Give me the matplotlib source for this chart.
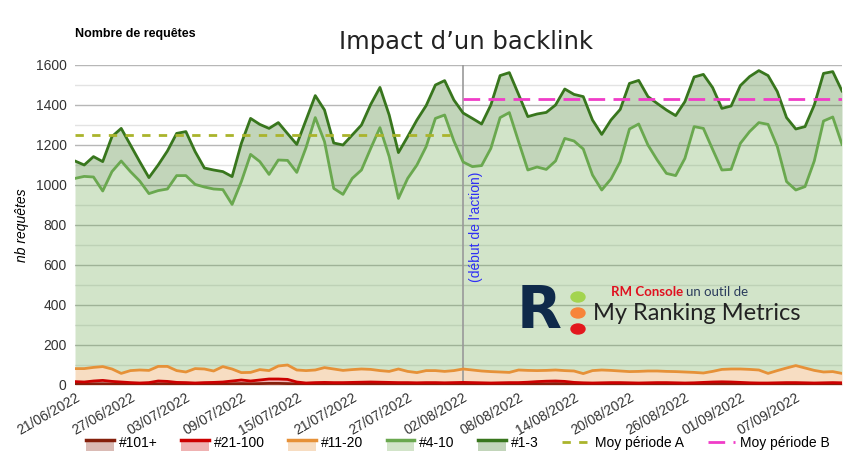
import numpy as np
import pandas as pd
import matplotlib
matplotlib.use("Agg")
import matplotlib.pyplot as plt
from matplotlib.lines import Line2D
from matplotlib.patches import Rectangle, Ellipse
from matplotlib.legend_handler import HandlerBase

plt.rcParams["font.family"] = ["Liberation Sans", "DejaVu Sans"]

# daily dates 21/06/2022 -> 12/09/2022
dates = pd.date_range("2022-06-21", "2022-09-12", freq="D")

# levels of each stacked series, as read on the chart
top_1_3 = [1120, 1100, 1142, 1117, 1242, 1283, 1200, 1117, 1037, 1100,
           1170, 1258, 1267, 1167, 1085, 1075, 1067, 1042, 1208, 1333,
           1303, 1283, 1312, 1257, 1203, 1325, 1447, 1375, 1210, 1200,
           1250, 1300, 1403, 1488, 1350, 1162, 1242, 1325, 1397, 1500,
           1522, 1425, 1360, 1333, 1305, 1400, 1547, 1562, 1453, 1342,
           1355, 1363, 1400, 1480, 1453, 1442, 1325, 1253, 1325, 1378,
           1508, 1523, 1442, 1408, 1375, 1347, 1417, 1540, 1553, 1487,
           1383, 1395, 1497, 1542, 1572, 1547, 1467, 1337, 1280, 1292,
           1400, 1558, 1567, 1470]
top_4_10 = [1033, 1043, 1040, 970, 1067, 1120, 1067, 1020, 957, 972,
            980, 1047, 1047, 1003, 990, 980, 977, 903, 1017, 1153,
            1117, 1053, 1125, 1123, 1063, 1187, 1337, 1217, 983, 953,
            1033, 1075, 1183, 1287, 1142, 933, 1033, 1100, 1192, 1333,
            1350, 1220, 1115, 1092, 1097, 1183, 1337, 1362, 1217, 1075,
            1090, 1078, 1120, 1233, 1220, 1180, 1050, 975, 1030, 1117,
            1280, 1305, 1200, 1125, 1058, 1047, 1133, 1292, 1283, 1178,
            1075, 1078, 1208, 1267, 1312, 1303, 1192, 1017, 975, 992,
            1120, 1320, 1340, 1203]
top_11_20 = [82, 82, 88, 92, 80, 58, 72, 75, 73, 93,
             93, 72, 65, 82, 80, 70, 92, 80, 62, 63,
             77, 72, 95, 100, 75, 72, 75, 87, 80, 73,
             77, 80, 78, 72, 68, 80, 68, 62, 72, 72,
             68, 72, 80, 75, 70, 67, 65, 63, 75, 73,
             72, 73, 75, 72, 70, 57, 72, 75, 73, 70,
             67, 68, 70, 70, 68, 67, 65, 63, 60, 68,
             78, 80, 80, 78, 75, 58, 72, 85, 97, 85,
             73, 65, 67, 58]
top_21_100 = [17, 15, 20, 23, 18, 15, 12, 10, 12, 20,
              18, 13, 12, 10, 12, 13, 15, 20, 25, 20,
              25, 30, 30, 28, 15, 10, 12, 13, 12, 12,
              13, 14, 15, 14, 13, 12, 12, 11, 12, 12,
              11, 12, 13, 12, 11, 10, 11, 12, 12, 14,
              17, 19, 20, 18, 13, 11, 10, 11, 12, 12,
              11, 10, 11, 12, 12, 11, 10, 11, 13, 15,
              16, 15, 13, 11, 10, 10, 11, 12, 12, 11,
              10, 11, 12, 11]
top_101 = [5, 5, 6, 6, 5, 5, 4, 4, 5, 6,
           6, 5, 5, 4, 4, 5, 5, 6, 7, 6,
           7, 8, 8, 7, 5, 4, 4, 5, 5, 5,
           5, 5, 5, 5, 5, 4, 4, 4, 5, 5,
           4, 5, 5, 5, 4, 4, 4, 5, 5, 5,
           6, 6, 7, 6, 5, 4, 4, 4, 5, 5,
           4, 4, 4, 5, 5, 4, 4, 4, 5, 5,
           6, 5, 5, 4, 4, 4, 4, 5, 5, 4,
           4, 4, 5, 4]

series_names = ["#101+", "#21-100", "#11-20", "#4-10", "#1-3"]
line_colors = ["#85200c", "#cc0000", "#e69138", "#6aa84f", "#38761d"]

moy_a = 1250
moy_b = 1430
action_date = pd.Timestamp("2022-08-02")
end_a = pd.Timestamp("2022-07-31")

fig = plt.figure(figsize=(8.59, 4.70), dpi=100)
ax = fig.add_axes([75 / 859, 1 - 385 / 470, 767 / 859, 320 / 470])

x = np.arange(len(dates))
levels = [np.zeros(len(x)), top_101, top_21_100, top_11_20, top_4_10, top_1_3]

# grid first, fills are transparent
for v in range(100, 1601, 100):
    ax.axhline(v, color="#b7b7b7" if v % 200 == 0 else "#e3e3e3", lw=1, zorder=0)

for i in range(5):
    ax.fill_between(x, levels[i], levels[i + 1], color=line_colors[i],
                    alpha=0.3, lw=0, zorder=1)
for i in range(5):
    ax.plot(x, levels[i + 1], color=line_colors[i], lw=2, zorder=3)

ia_end = dates.get_loc(end_a)
ib = dates.get_loc(action_date)
ax.plot([0, ia_end + 1], [moy_a, moy_a], color="#aab42c", lw=2,
        dashes=(3, 3), zorder=4)
ax.plot([ib, x[-1]], [moy_b, moy_b], color="#f03cc8", lw=2,
        dashes=(6, 3), zorder=4)

ax.axvline(ib, color="#999999", lw=1.2, zorder=2)
ax.text(ib + 0.6, 790, "(début de l'action)", rotation=90, color="#2f2ff5",
        fontsize=10, ha="left", va="center", zorder=5)

ax.set_xlim(0, x[-1])
ax.set_ylim(0, 1600)
ax.set_yticks(range(0, 1601, 200))
ax.set_yticklabels([str(v) for v in range(0, 1601, 200)])
tick_idx = x[::6]
ax.set_xticks(tick_idx)
ax.set_xticklabels([dates[i].strftime("%d/%m/%Y") for i in tick_idx],
                   rotation=30, ha="right", rotation_mode="anchor")
ax.tick_params(axis="both", length=0, colors="#333333")
ax.tick_params(axis="x", pad=4, labelsize=10)
ax.tick_params(axis="y", pad=6, labelsize=10)
for s in ax.spines.values():
    s.set_visible(False)
ax.set_ylabel("nb requêtes", fontstyle="italic", fontsize=10, labelpad=5)

fig.text(466 / 859, 1 - 42 / 470, "Impact d’un backlink", fontsize=17.5,
         ha="center", va="center", color="#222222", family="DejaVu Sans")
fig.text(75 / 859, 1 - 34 / 470, "Nombre de requêtes", fontsize=9,
         fontweight="bold", ha="left", va="center")

# logo
fig.text(517 / 859, 1 - 311 / 470, "R", fontsize=42, fontweight="bold",
         color="#0f2a4a", ha="left", va="center", family="DejaVu Sans")
for yy, c in zip([297, 313, 329], ["#a3d44f", "#f7843a", "#e3171d"]):
    fig.add_artist(Ellipse((578 / 859, 1 - yy / 470), 14 / 859, 10 / 470,
                           color=c, transform=fig.transFigure))
fig.text(611 / 859, 1 - 292 / 470, "RM Console", fontsize=9.5,
         fontweight="bold", color="#e0101f", ha="left", va="center",
         family="Lato")
fig.text(686 / 859, 1 - 292 / 470, "un outil de", fontsize=9.5,
         color="#2a3b5c", ha="left", va="center", family="Lato")
fig.text(593 / 859, 1 - 313 / 470, "My Ranking Metrics", fontsize=17,
         color="#222222", ha="left", va="center", family="Lato")


class AreaKey:
    def __init__(self, color):
        self.color = color


class HandlerAreaKey(HandlerBase):
    def create_artists(self, legend, orig_handle, xdescent, ydescent,
                       width, height, fontsize, trans):
        rect = Rectangle((-xdescent, -ydescent - 3), width, height * 0.75 + 3,
                         facecolor=orig_handle.color, alpha=0.3, lw=0,
                         transform=trans)
        ln = Line2D([-xdescent, -xdescent + width],
                    [-ydescent + height * 0.75] * 2,
                    color=orig_handle.color, lw=2.5, transform=trans)
        return [rect, ln]


handles = [AreaKey(c) for c in line_colors]
handles += [Line2D([], [], color="#aab42c", lw=2, dashes=(3, 3)),
            Line2D([], [], color="#f03cc8", lw=2, dashes=(6, 3))]
labels = series_names + ["Moy période A", "Moy période B"]
fig.legend(handles, labels, handler_map={AreaKey: HandlerAreaKey()},
           loc="center", bbox_to_anchor=(458 / 859, 1 - 443 / 470),
           ncol=7, frameon=False, fontsize=10, handlelength=2.0,
           columnspacing=1.7, handletextpad=0.35)

fig.savefig("out.png", dpi=100)
